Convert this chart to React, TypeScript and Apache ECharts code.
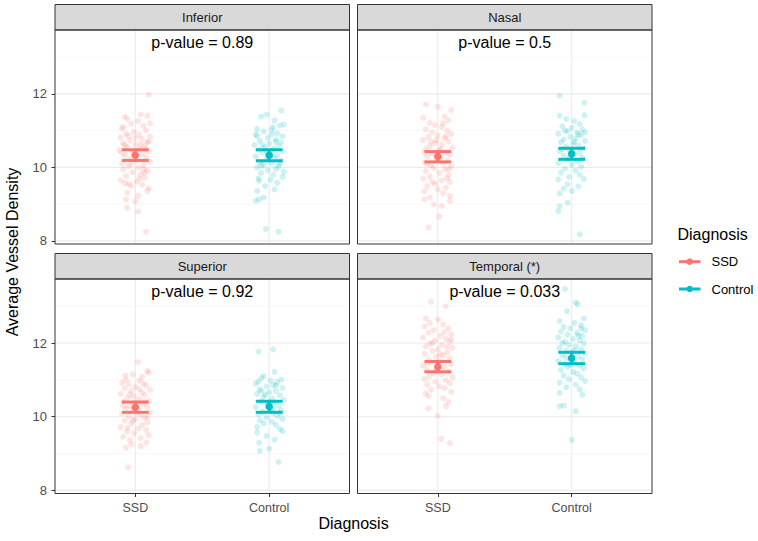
import React, { useEffect, useRef } from "react";
import * as echarts from "echarts";

const panels = ["Inferior", "Nasal", "Superior", "Temporal (*)"];
const pValues = ["p-value = 0.89", "p-value = 0.5", "p-value = 0.92", "p-value = 0.033"];
const groups = ["SSD", "Control"];
const groupColors = ["#F8766D", "#00BFC4"];
const yMajor = [8, 10, 12];
const yMinor = [9, 11, 13];
const xMajor = [1, 2];
const yRange = [7.915, 13.74];
const xRange = [0.4, 2.6];

// mean and error-bar limits per panel (Inferior, Nasal, Superior, Temporal)
const ssdMean = [10.33, 10.3, 10.26, 11.36];
const ssdLow = [10.19, 10.15, 10.12, 11.22];
const ssdHigh = [10.48, 10.43, 10.4, 11.5];
const ctrlMean = [10.33, 10.37, 10.28, 11.59];
const ctrlLow = [10.18, 10.22, 10.12, 11.44];
const ctrlHigh = [10.48, 10.52, 10.42, 11.75];

// jittered observations: [horizontal jitter, value]
const infSSD = [[0.10,11.98],[-0.08,11.38],[-0.06,11.32],[0.04,11.44],[0.09,11.41],[0.02,11.26],[-0.03,11.19],[0.06,11.13],[-0.10,11.06],[0.08,11.01],[-0.01,10.96],[-0.07,10.91],[0.03,10.88],[0.11,10.84],[-0.11,10.81],[0.05,10.77],[-0.04,10.73],[0.09,10.69],[-0.09,10.66],[0.00,10.63],[0.07,10.59],[-0.06,10.56],[0.03,10.52],[-0.12,10.47],[0.10,10.43],[-0.02,10.39],[0.05,10.36],[-0.08,10.31],[0.08,10.27],[-0.04,10.23],[0.01,10.19],[0.11,10.15],[-0.10,10.11],[0.06,10.07],[-0.05,10.03],[0.02,9.99],[-0.09,9.95],[0.09,9.91],[-0.02,9.87],[0.04,9.81],[-0.07,9.76],[0.07,9.71],[-0.11,9.65],[0.01,9.61],[-0.08,9.57],[0.05,9.53],[-0.03,9.49],[0.10,9.43],[0.09,9.36],[-0.06,9.31],[0.02,9.23],[-0.07,9.13],[0.00,9.08],[-0.06,8.90],[0.02,8.80],[0.08,8.25],[-0.05,10.85],[0.04,10.62],[-0.10,10.40],[0.10,10.70],[-0.03,10.10],[0.06,9.95],[-0.08,10.60],[0.00,10.80],[0.08,10.50],[-0.01,10.45],[0.11,11.20],[-0.09,11.10],[0.03,9.70],[-0.05,9.55],[0.07,9.85]];
const infCtrl = [[0.09,11.55],[-0.02,11.44],[-0.06,11.38],[0.04,11.28],[0.11,11.17],[0.08,11.14],[-0.09,11.05],[0.02,11.02],[-0.04,10.98],[0.06,10.93],[-0.09,10.85],[0.10,10.85],[-0.01,10.80],[0.05,10.76],[-0.07,10.72],[0.09,10.68],[0.00,10.65],[-0.11,10.61],[0.07,10.58],[-0.03,10.55],[0.03,10.51],[-0.08,10.48],[0.10,10.44],[-0.05,10.40],[0.01,10.37],[0.06,10.33],[-0.10,10.30],[0.04,10.26],[-0.02,10.22],[0.09,10.19],[-0.07,10.15],[0.02,10.11],[-0.04,10.07],[0.07,10.03],[-0.09,10.00],[0.05,9.96],[-0.01,9.92],[0.11,9.88],[-0.06,9.85],[0.03,9.80],[0.10,9.74],[-0.08,9.70],[0.01,9.66],[-0.075,9.63],[0.06,9.58],[-0.03,9.49],[-0.09,9.36],[0.04,9.40],[-0.075,9.13],[-0.10,9.09],[-0.04,9.18],[-0.025,8.32],[0.07,8.25],[0.02,10.90],[-0.05,10.60],[0.08,10.10],[-0.02,10.45],[0.05,10.70],[-0.10,10.90],[0.00,10.20],[0.03,11.10],[-0.06,10.05]];
const nasSSD = [[-0.09,11.71],[0.00,11.65],[0.10,11.56],[-0.11,11.35],[-0.06,11.21],[0.05,11.38],[0.08,11.28],[-0.02,11.15],[0.03,11.10],[-0.09,11.04],[0.07,11.00],[-0.04,10.95],[0.10,10.91],[0.00,10.87],[-0.07,10.83],[0.05,10.79],[-0.11,10.74],[0.08,10.70],[-0.02,10.66],[0.03,10.62],[-0.06,10.58],[0.11,10.54],[-0.09,10.50],[0.01,10.46],[0.06,10.42],[-0.04,10.38],[0.09,10.34],[-0.08,10.30],[0.02,10.26],[-0.01,10.22],[0.07,10.18],[-0.10,10.14],[0.04,10.10],[-0.05,10.06],[0.10,10.02],[-0.03,9.98],[0.05,9.94],[-0.09,9.90],[0.01,9.85],[0.08,9.80],[-0.06,9.75],[-0.11,9.70],[0.03,9.65],[0.09,9.60],[-0.02,9.55],[-0.08,9.49],[0.06,9.45],[0.00,9.40],[-0.10,9.35],[0.04,9.30],[0.09,9.22],[-0.06,9.18],[-0.10,9.13],[0.09,9.09],[-0.03,8.99],[0.03,8.95],[0.01,8.66],[-0.07,8.36],[0.06,10.85],[-0.05,10.70],[0.02,10.50],[-0.08,10.10],[0.08,9.95],[-0.01,10.75],[0.04,11.20],[-0.10,10.40],[0.07,9.70],[-0.04,9.60]];
const nasCtrl = [[-0.09,11.95],[0.095,11.76],[0.095,11.42],[-0.09,11.41],[-0.04,11.32],[0.02,11.26],[0.06,11.18],[-0.07,11.12],[0.00,11.08],[0.08,11.03],[-0.03,10.99],[0.04,10.95],[-0.10,10.91],[0.07,10.87],[-0.01,10.83],[0.03,10.79],[-0.06,10.76],[0.10,10.72],[-0.08,10.68],[0.01,10.64],[0.05,10.60],[-0.04,10.56],[0.09,10.52],[-0.02,10.48],[-0.09,10.44],[0.06,10.40],[0.02,10.36],[-0.06,10.32],[0.08,10.27],[-0.03,10.22],[0.04,10.17],[-0.10,10.12],[0.00,10.07],[0.07,10.02],[-0.05,9.97],[0.03,9.91],[-0.08,9.86],[0.06,9.80],[-0.02,9.74],[0.09,9.69],[-0.10,9.67],[-0.03,9.54],[-0.09,9.29],[0.00,9.36],[0.05,9.48],[-0.06,9.42],[-0.03,9.04],[-0.09,8.95],[-0.10,8.81],[0.06,8.18],[0.05,10.90],[-0.07,10.50],[0.02,10.70],[-0.01,10.30],[0.10,10.95],[-0.05,11.00]];
const supSSD = [[0.02,11.48],[0.09,11.24],[0.10,11.20],[-0.075,11.12],[-0.02,11.15],[0.05,11.08],[-0.10,10.92],[0.03,10.98],[-0.05,10.88],[0.08,10.85],[0.00,10.81],[-0.08,10.77],[0.11,10.73],[-0.03,10.70],[0.05,10.66],[-0.11,10.62],[0.07,10.58],[-0.01,10.55],[-0.06,10.51],[0.03,10.48],[0.10,10.44],[-0.09,10.41],[0.01,10.37],[0.06,10.34],[-0.04,10.30],[0.09,10.27],[-0.07,10.23],[0.02,10.20],[-0.02,10.16],[0.11,10.12],[-0.10,10.08],[0.04,10.05],[-0.05,10.01],[0.07,9.97],[0.00,9.93],[-0.08,9.89],[0.09,9.85],[-0.03,9.81],[0.05,9.77],[-0.11,9.72],[0.02,9.68],[0.08,9.64],[-0.06,9.60],[-0.01,9.55],[0.10,9.50],[-0.09,9.46],[0.04,9.42],[-0.04,9.37],[0.08,9.30],[0.04,9.20],[-0.03,9.25],[-0.07,9.16],[-0.055,8.62],[0.06,10.90],[-0.04,10.60],[0.01,10.10],[-0.09,10.30],[0.07,10.40],[-0.02,9.90],[0.03,10.75],[-0.07,11.00],[0.09,10.00],[-0.06,9.70]];
const supCtrl = [[-0.08,11.77],[0.03,11.83],[0.04,11.22],[-0.04,11.10],[0.09,11.01],[-0.06,11.05],[0.01,10.98],[0.06,10.94],[-0.10,10.90],[0.03,10.86],[-0.02,10.82],[0.10,10.78],[-0.07,10.74],[0.05,10.70],[0.00,10.66],[-0.09,10.62],[0.08,10.58],[-0.04,10.54],[0.02,10.50],[0.11,10.46],[-0.06,10.42],[0.04,10.38],[-0.01,10.34],[0.07,10.30],[-0.10,10.26],[0.01,10.22],[0.09,10.18],[-0.05,10.14],[0.03,10.10],[-0.08,10.06],[0.06,10.02],[-0.02,9.98],[0.10,9.94],[-0.07,9.90],[0.02,9.86],[-0.04,9.82],[0.05,9.78],[-0.09,9.72],[0.08,9.67],[-0.09,9.57],[0.10,9.61],[-0.075,9.29],[0.04,9.38],[-0.07,9.07],[0.00,9.13],[0.07,8.77],[-0.02,9.48],[0.05,10.85],[-0.03,10.60],[0.00,10.40],[0.08,10.10],[-0.06,10.70],[0.02,10.20],[-0.08,10.95]];
const temSSD = [[-0.05,13.12],[0.06,13.00],[-0.09,12.67],[0.00,12.64],[-0.10,12.45],[0.04,12.50],[0.08,12.40],[-0.03,12.35],[-0.07,12.28],[0.10,12.24],[0.02,12.20],[-0.11,12.15],[0.06,12.11],[-0.02,12.07],[0.09,12.03],[-0.06,11.99],[0.03,11.95],[-0.09,11.91],[0.11,11.87],[0.00,11.83],[-0.04,11.79],[0.07,11.75],[-0.10,11.71],[0.04,11.67],[-0.01,11.63],[0.09,11.59],[-0.07,11.55],[0.02,11.51],[-0.05,11.47],[0.10,11.43],[-0.11,11.39],[0.05,11.35],[0.00,11.31],[-0.08,11.27],[0.08,11.23],[-0.03,11.19],[0.03,11.15],[-0.06,11.11],[0.11,11.07],[-0.10,11.03],[0.06,10.99],[-0.02,10.95],[0.09,10.91],[-0.08,10.87],[0.01,10.83],[0.05,10.78],[-0.05,10.73],[0.10,10.68],[-0.09,10.63],[-0.07,10.56],[0.04,10.50],[0.08,10.40],[0.06,10.29],[-0.07,10.22],[0.00,10.02],[0.025,9.40],[0.09,9.28],[0.05,12.30],[-0.04,12.00],[0.02,11.70],[-0.08,11.45],[0.07,11.90],[-0.01,11.25],[0.10,12.10],[-0.06,12.55]];
const temCtrl = [[-0.05,13.47],[0.03,13.10],[0.045,13.06],[-0.035,12.87],[0.09,12.67],[-0.09,12.60],[0.02,12.55],[0.07,12.48],[-0.06,12.44],[-0.01,12.40],[0.10,12.35],[-0.08,12.31],[0.04,12.27],[-0.03,12.23],[0.08,12.19],[-0.10,12.15],[0.01,12.11],[0.06,12.07],[-0.05,12.03],[0.09,11.99],[-0.02,11.95],[0.03,11.91],[-0.09,11.87],[0.07,11.83],[-0.04,11.79],[0.00,11.75],[0.10,11.71],[-0.07,11.67],[0.05,11.63],[-0.01,11.59],[0.08,11.55],[-0.10,11.51],[0.02,11.47],[-0.05,11.43],[0.06,11.39],[-0.03,11.35],[0.09,11.31],[-0.08,11.27],[0.01,11.22],[0.04,11.17],[-0.06,11.12],[0.07,11.07],[-0.02,11.02],[0.10,10.97],[-0.09,10.92],[0.03,10.87],[-0.04,10.80],[0.06,10.74],[-0.09,10.65],[0.08,10.60],[-0.09,10.29],[-0.06,10.30],[0.03,10.15],[0.00,9.37],[0.05,12.20],[-0.07,12.00],[0.02,11.80],[-0.01,11.40],[0.07,12.40],[-0.04,11.60]];

const FONT = "'Liberation Sans', Arial, Helvetica, sans-serif";

export default function App() {
  const ref = useRef<HTMLDivElement>(null);
  useEffect(() => {
    if (!ref.current) return;
    const chart = echarts.init(ref.current, null, { renderer: "svg" });
    const rects = [
      { left: 55, top: 30, width: 294.5, height: 214 },
      { left: 357.5, top: 30, width: 294.5, height: 214 },
      { left: 55, top: 279, width: 294.5, height: 214.5 },
      { left: 357.5, top: 279, width: 294.5, height: 214.5 },
    ];
    const points = [
      [infSSD, infCtrl],
      [nasSSD, nasCtrl],
      [supSSD, supCtrl],
      [temSSD, temCtrl],
    ];
    const stats = [
      [ssdMean, ssdLow, ssdHigh],
      [ctrlMean, ctrlLow, ctrlHigh],
    ];

    const grid = rects.map((r) => ({ ...r, show: false, containLabel: false, outerBoundsMode: "none" }));
    const xAxis = rects.map((r, i) => ({
      type: "value",
      gridIndex: i,
      min: xRange[0],
      max: xRange[1],
      axisLine: { show: false },
      splitLine: { show: false },
      axisTick: { show: i >= 2, customValues: xMajor, length: 3.5, lineStyle: { color: "#333333", width: 1 } },
      axisLabel: {
        show: i >= 2,
        customValues: xMajor,
        formatter: (v: number) => groups[Math.round(v) - 1] ?? "",
        color: "#4D4D4D",
        fontSize: 12.5,
        fontFamily: FONT,
        margin: 8,
      },
    }));
    const yAxis = rects.map((r, i) => ({
      type: "value",
      gridIndex: i,
      min: yRange[0],
      max: yRange[1],
      axisLine: { show: false },
      splitLine: { show: false },
      axisTick: { show: i % 2 === 0, customValues: yMajor, length: 3.5, lineStyle: { color: "#333333", width: 1 } },
      axisLabel: {
        show: i % 2 === 0,
        customValues: yMajor,
        color: "#4D4D4D",
        fontSize: 13,
        fontFamily: FONT,
        margin: 8,
      },
    }));

    const gridData: number[][] = [];
    yMinor.forEach((v) => gridData.push([1.5, v, 1]));
    yMajor.forEach((v) => gridData.push([1.5, v, 0]));
    xMajor.forEach((v) => gridData.push([v, 10, 2]));

    const series: any[] = [];
    rects.forEach((r, i) => {
      series.push({
        type: "custom",
        xAxisIndex: i,
        yAxisIndex: i,
        silent: true,
        z: 1,
        data: gridData,
        renderItem: (params: any, api: any) => {
          const kind = api.value(2);
          let p0, p1;
          if (kind === 2) {
            p0 = api.coord([api.value(0), yRange[0]]);
            p1 = api.coord([api.value(0), yRange[1]]);
          } else {
            p0 = api.coord([xRange[0], api.value(1)]);
            p1 = api.coord([xRange[1], api.value(1)]);
          }
          return {
            type: "line",
            shape: { x1: p0[0], y1: p0[1], x2: p1[0], y2: p1[1] },
            style: { stroke: kind === 1 ? "#F2F2F2" : "#EBEBEB", lineWidth: kind === 1 ? 0.6 : 1.1 },
          };
        },
      });
      [0, 1].forEach((g) => {
        const xc = g + 1;
        series.push({
          type: "scatter",
          name: groups[g],
          xAxisIndex: i,
          yAxisIndex: i,
          silent: true,
          z: 2,
          symbol: "circle",
          symbolSize: 6,
          itemStyle: { color: groupColors[g], opacity: 0.2 },
          data: points[i][g].map(([dx, y]) => [xc + dx, y]),
        });
        series.push({
          type: "custom",
          xAxisIndex: i,
          yAxisIndex: i,
          silent: true,
          z: 3,
          data: [[xc, stats[g][1][i], stats[g][2][i]]],
          renderItem: (params: any, api: any) => {
            const x = api.value(0);
            const lo = api.value(1);
            const hi = api.value(2);
            const w = 0.1;
            const a = api.coord([x - w, hi]);
            const b = api.coord([x + w, hi]);
            const c = api.coord([x - w, lo]);
            const d = api.coord([x + w, lo]);
            const m1 = api.coord([x, hi]);
            const m2 = api.coord([x, lo]);
            const st = { stroke: groupColors[g], lineWidth: 3 };
            return {
              type: "group",
              children: [
                { type: "line", shape: { x1: a[0], y1: a[1], x2: b[0], y2: b[1] }, style: st },
                { type: "line", shape: { x1: c[0], y1: c[1], x2: d[0], y2: d[1] }, style: st },
                { type: "line", shape: { x1: m1[0], y1: m1[1], x2: m2[0], y2: m2[1] }, style: st },
              ],
            };
          },
        });
        series.push({
          type: "scatter",
          xAxisIndex: i,
          yAxisIndex: i,
          silent: true,
          z: 4,
          symbol: "circle",
          symbolSize: 7.5,
          itemStyle: { color: groupColors[g], opacity: 1 },
          data: [[xc, stats[g][0][i]]],
        });
      });
    });

    const graphic: any[] = [];
    rects.forEach((r, i) => {
      const stripTop = r.top - 25.5;
      graphic.push({
        type: "rect",
        z: 100,
        shape: { x: r.left, y: stripTop, width: r.width, height: 25.5 },
        style: { fill: "#D9D9D9", stroke: "#333333", lineWidth: 1 },
      });
      graphic.push({
        type: "text",
        z: 101,
        x: r.left + r.width / 2,
        y: stripTop + 13,
        style: {
          text: panels[i],
          fontSize: 13,
          fontFamily: FONT,
          fill: "#1A1A1A",
          align: "center",
          verticalAlign: "middle",
          textAlign: "center",
          textVerticalAlign: "middle",
        },
      });
      graphic.push({
        type: "rect",
        z: 100,
        shape: { x: r.left, y: r.top, width: r.width, height: r.height },
        style: { fill: "none", stroke: "#333333", lineWidth: 1 },
      });
      graphic.push({
        type: "text",
        z: 101,
        x: r.left + r.width / 2,
        y: r.top + 12,
        style: {
          text: pValues[i],
          fontSize: 16,
          fontFamily: FONT,
          fill: "#000000",
          align: "center",
          verticalAlign: "middle",
          textAlign: "center",
          textVerticalAlign: "middle",
        },
      });
    });
    graphic.push({
      type: "text",
      x: 353.5,
      y: 523,
      style: {
        text: "Diagnosis",
        fontSize: 16,
        fontFamily: FONT,
        fill: "#000000",
        align: "center",
        verticalAlign: "middle",
        textAlign: "center",
        textVerticalAlign: "middle",
      },
    });
    graphic.push({
      type: "text",
      x: 12.5,
      y: 252,
      rotation: Math.PI / 2,
      style: {
        text: "Average Vessel Density",
        fontSize: 16,
        fontFamily: FONT,
        fill: "#000000",
        align: "center",
        verticalAlign: "middle",
        textAlign: "center",
        textVerticalAlign: "middle",
      },
    });
    graphic.push({
      type: "text",
      x: 677.5,
      y: 234,
      style: {
        text: "Diagnosis",
        fontSize: 16,
        fontFamily: FONT,
        fill: "#000000",
        align: "left",
        verticalAlign: "middle",
        textAlign: "left",
        textVerticalAlign: "middle",
      },
    });
    const legendY = [261.7, 289];
    groups.forEach((gname, g) => {
      graphic.push({
        type: "line",
        shape: { x1: 679, y1: legendY[g], x2: 700.5, y2: legendY[g] },
        style: { stroke: groupColors[g], lineWidth: 3 },
      });
      graphic.push({
        type: "circle",
        shape: { cx: 689.7, cy: legendY[g], r: 3.3 },
        style: { fill: groupColors[g] },
      });
      graphic.push({
        type: "text",
        x: 711.5,
        y: legendY[g],
        style: {
          text: gname,
          fontSize: 13,
          fontFamily: FONT,
          fill: "#000000",
          align: "left",
          verticalAlign: "middle",
          textAlign: "left",
          textVerticalAlign: "middle",
        },
      });
    });

    chart.setOption({
      animation: false,
      backgroundColor: "#FFFFFF",
      textStyle: { fontFamily: FONT },
      grid,
      xAxis,
      yAxis,
      series,
      graphic,
    });
    return () => chart.dispose();
  }, []);
  return <div ref={ref} style={{ position: "absolute", left: 0, top: 0, width: 758, height: 541 }} />;
}
